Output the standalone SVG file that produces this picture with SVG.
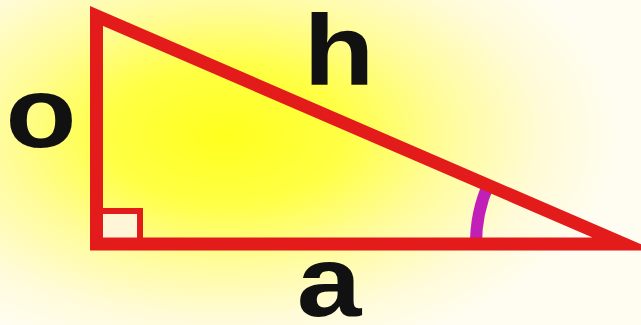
<svg xmlns="http://www.w3.org/2000/svg" width="641" height="325" viewBox="0 0 641 325">
  <defs>
    <radialGradient id="bg" gradientUnits="userSpaceOnUse" cx="0" cy="0" r="1" gradientTransform="translate(225,135) scale(400,230)">
      <stop offset="0" stop-color="#ffff1e"/>
      <stop offset="0.3" stop-color="#ffff45"/>
      <stop offset="0.55" stop-color="#fffc9a"/>
      <stop offset="0.8" stop-color="#fffbd8"/>
      <stop offset="1" stop-color="#fffdf2"/>
    </radialGradient>
  </defs>
  <style>
    .side { fill: none; stroke: #e31b1b; stroke-width: 13; stroke-linejoin: miter; stroke-miterlimit: 10; }
    .mark { fill: none; stroke: #e31b1b; stroke-width: 6; }
    .angle { fill: none; stroke: #c21fb8; stroke-width: 12; }
    .lbl { font-family: "Liberation Sans", Arial, sans-serif; font-weight: bold; font-size: 101px; fill: #111; text-anchor: middle; }
  </style>
  <rect id="background" x="0" y="0" width="641" height="325" fill="url(#bg)"/>
  <g id="angle-marker">
    <path class="angle" d="M 476 246 A 148 148 0 0 1 489 183"/>
  </g>
  <g id="right-angle">
    <path d="M 100 211 H 140 V 240 H 100 Z" fill="#fff6d8" stroke="none"/>
    <path class="mark" d="M 99 211 H 140 V 240"/>
  </g>
  <g id="triangle">
    <polygon class="side" points="96.5,16 96.5,244 624,244"/>
  </g>
  <g id="label-o">
    <text class="lbl" transform="translate(41,146.5) scale(1.15,1)">o</text>
  </g>
  <g id="label-h">
    <text class="lbl" transform="translate(339,85) scale(1.15,1)">h</text>
  </g>
  <g id="label-a">
    <text class="lbl" transform="translate(329,315.5) scale(1.15,1)">a</text>
  </g>
</svg>
